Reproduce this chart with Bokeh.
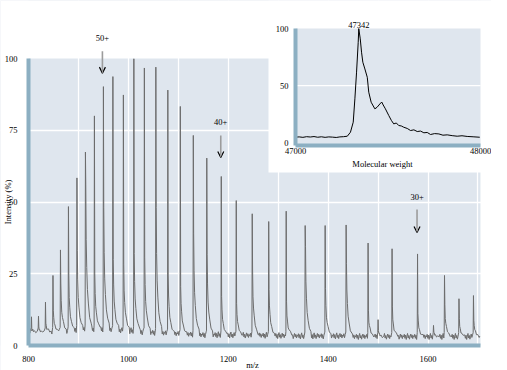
import math
from bokeh.plotting import figure
from bokeh.models import Range1d, FixedTicker, ColumnDataSource, Arrow, OpenHead, Label
from bokeh.embed import file_html
from bokeh.resources import INLINE
from bokeh.core.properties import value

# ---------------- data ----------------
peak_mz = [806, 820, 834, 849, 864, 880, 897, 914, 932, 950, 969, 990, 1011, 1032,
           1055, 1079, 1104, 1130, 1157, 1186, 1216, 1248, 1281, 1316, 1354, 1394,
           1436, 1480, 1500, 1528, 1579, 1611, 1633, 1662, 1691]
peak_h = [10.0, 10.2, 15.1, 24.4, 33.3, 48.4, 58.4, 67.4, 80.0, 90.2, 93.7, 87.3, 99.9, 96.7,
          97.0, 89.0, 83.3, 73.2, 65.3, 58.9, 50.5, 45.9, 43.2, 46.8, 41.8, 41.8,
          42.0, 35.7, 9.0, 33.7, 31.9, 7.0, 24.4, 16.3, 17.4]
shoulder_h = [5.5, 6.0, 8.0, 12.0, 22.0, 24.0, 33.0, 56.0, 25.0, 48.0, 30.0, 28.0, 32.0, 31.0,
              48.0, 25.0, 21.0, 39.0, 32.0, 17.0, 15.0, 26.0, 20.0, 15.0, 34.0, 20.0,
              29.0, 12.0, 5.0, 13.0, 11.0, 4.5, 14.0, 9.0, 9.0]
baseline = [4.8, 4.6, 4.6, 4.8, 4.8, 5.0, 5.4, 5.6, 5.6, 5.6, 5.4, 5.2, 5.0, 4.6,
            4.4, 4.2, 4.0, 3.8, 3.6, 3.6, 3.5, 3.4, 3.4, 3.3, 3.2, 3.2,
            3.2, 3.0, 3.0, 3.0, 3.0, 3.0, 3.0, 3.0, 3.0]
noise = [0.0, 0.9, -0.5, 0.6, -0.9, 0.3, 1.2, -0.4, 0.5, -0.8, 0.2, 1.0, -0.2, 0.7, -0.6, 0.4]
tail_dx = [0.7, 1.5, 2.6, 4.0, 6.0, 8.5, 11.5]
tail_frac = [1.0, 0.62, 0.42, 0.28, 0.17, 0.09, 0.04]

charge_labels = ["50+", "40+", "30+"]
charge_x = [948, 1185, 1578]
charge_text_y = [107.3, 78.0, 51.9]
arrow_top = [102.5, 73.2, 47.4]
arrow_tip = [94.9, 65.5, 39.4]

main_xticks = [800, 1000, 1200, 1400, 1600]
main_xgrid = [900, 1000, 1100, 1200, 1300, 1400, 1500, 1600, 1700]
main_yticks = [0, 25, 50, 75, 100]
main_ygrid = [25, 50, 75]

mw = [47000, 47020, 47040, 47060, 47080, 47100, 47120, 47140, 47160, 47180, 47200, 47220,
      47240, 47260, 47280, 47297, 47312, 47321, 47330, 47339, 47342, 47350, 47357, 47364,
      47375, 47388, 47396, 47409, 47429, 47441, 47456, 47466, 47474, 47486, 47504, 47518,
      47531, 47545, 47558, 47572, 47585, 47604, 47622, 47640, 47658, 47676, 47694, 47712,
      47730, 47752, 47775, 47797, 47820, 47847, 47874, 47900, 47928, 47960, 47996]
abundance = [4.8, 5.0, 4.6, 5.2, 4.9, 5.3, 4.7, 5.1, 4.6, 5.0, 4.8, 4.5,
             5.0, 5.2, 5.6, 9.1, 17.9, 38.4, 61.8, 88.0, 100.0, 91.0, 79.3, 70.5,
             64.6, 57.3, 44.2, 35.4, 29.6, 31.0, 33.9, 35.6, 33.0, 29.6, 23.8, 19.5,
             16.4, 17.2, 15.0, 14.6, 13.5, 12.4, 10.6, 11.2, 9.7, 10.1, 8.6, 8.9,
             7.1, 7.9, 7.6, 6.5, 6.8, 6.1, 5.6, 6.0, 5.4, 5.1, 4.7]
inset_xticks = [47000, 48000]
inset_yticks = [0, 50, 100]
inset_ygrid = [50]
apex_mw = 47342
apex_label = "47342"

# ---------------- styling / geometry ----------------
FONT = "Liberation Serif"
FS = "8.5px"
BG = "#dfe6ee"
BAND = "#8cafc2"
LINE = "#6c6c6c"

FIG_W, FIG_H = 491, 370
FIG_X, FIG_Y = 0, 0                      # where the canvas lands in the window
fx0, fx1 = FIG_X, FIG_X + FIG_W           # the frame fills the whole canvas
fy0, fy1 = FIG_Y, FIG_Y + FIG_H
PX800, PY0 = 28, 345                      # window pixel of m/z 800 and of 0 %
SX = 0.4994                               # px per m/z unit
SY = 2.87                                 # px per % (main)
X0, XEND = 800, 1705                      # main panel extent
XS = X0 - (PX800 - fx0) / SX
XE = X0 + (fx1 - PX800) / SX
YS = -(fy1 - PY0) / SY
YE = (PY0 - fy0) / SY

IX_P0, IX_S = 295, 0.185                  # inset: 47000 at px 295, 0.185 px/Da
IY_P0, IY_S = 142.1, 1.14                 # inset: 0 % at px 142.1, 1.14 px/%
ins_x = Range1d(47000 + (fx0 - IX_P0) / IX_S, 47000 + (fx1 - IX_P0) / IX_S)
ins_y = Range1d((IY_P0 - fy1) / IY_S, (IY_P0 - fy0) / IY_S)
IYB = -2.5

# spectrum polyline from the peak table
xs, ys = [], []
cursor = X0
k = 0
for m, h, s, b in zip(peak_mz, peak_h, shoulder_h, baseline):
    x = cursor
    while x < m - 1.2:
        xs.append(x); ys.append(b + noise[k % len(noise)]); k += 1
        x += 1.3
    xs += [m - 0.6, m]
    ys += [b + 1.5, h]
    for dx, f in zip(tail_dx, tail_frac):
        xs.append(m + dx)
        ys.append(b + (s - b) * f + 0.5 * noise[k % len(noise)]); k += 1
    cursor = m + 12.8
x = cursor
while x <= XEND:
    xs.append(x); ys.append(baseline[-1] + noise[k % len(noise)]); k += 1
    x += 1.3

p = figure(width=FIG_W, height=FIG_H, x_range=Range1d(XS, XE), y_range=Range1d(YS, YE),
           output_backend="svg", toolbar_location=None,
           min_border_left=0, min_border_right=0, min_border_top=0, min_border_bottom=0)
p.extra_x_ranges = {"ins": ins_x}
p.extra_y_ranges = {"ins": ins_y}
p.background_fill_color = BG
p.border_fill_color = "white"
p.outline_line_color = None

p.xaxis.ticker = FixedTicker(ticks=main_xticks)
p.yaxis.ticker = FixedTicker(ticks=main_yticks)
p.xgrid.ticker = FixedTicker(ticks=main_xgrid)
p.ygrid.ticker = FixedTicker(ticks=main_ygrid)
p.grid.grid_line_color = "white"
p.grid.grid_line_width = 1.3
p.yaxis.fixed_location = X0
p.xaxis.fixed_location = 0
p.yaxis.bounds = (0, 100)
p.xaxis.bounds = (X0, XEND)
for ax in (p.xaxis[0], p.yaxis[0]):
    ax.axis_line_color = BAND
    ax.axis_line_width = 4
    ax.major_tick_line_color = None
    ax.minor_tick_line_color = None
    ax.major_label_text_font = FONT
    ax.major_label_text_font_size = FS
    ax.major_label_text_color = "black"
p.xaxis.major_label_standoff = 4
p.yaxis.major_label_standoff = 5

# white outside the main panel
p.quad(left=[XS, XS, XS, XEND], right=[XE, XE, X0, XE], bottom=[100, YS, YS, YS],
       top=[YE, 0, YE, YE], fill_color="white", line_color=None)
p.line(xs, ys, line_color=LINE, line_width=1)

src = ColumnDataSource(dict(x=charge_x, y0=arrow_top, y1=arrow_tip))
p.add_layout(Arrow(source=src, x_start="x", y_start="y0", x_end="x", y_end="y1",
                   line_color="#9c9c9c", line_width=1.6,
                   end=OpenHead(size=6, line_color="black", line_width=1.2)))
p.text(x=charge_x, y=charge_text_y, text=charge_labels, text_font=value(FONT),
       text_font_size=FS, text_align="center", text_baseline="middle", text_color="black")

# axis titles
p.add_layout(Label(x=X0 - 21 / SX, y=50, text="Intensity (%)", angle=math.pi / 2,
                   text_font=FONT, text_font_size=FS, text_align="center",
                   text_baseline="middle", text_color="black"))
p.add_layout(Label(x=X0 + (252 - PX800) / SX, y=-(364 - PY0) / SY, text="m/z",
                   text_font=FONT, text_font_size=FS, text_align="center",
                   text_baseline="middle", text_color="black"))

# ---------------- inset (own scales on the same canvas) ----------------
R = dict(x_range_name="ins", y_range_name="ins")
box_left = 47000 + (268 - IX_P0) / IX_S
box_bottom = (IY_P0 - 172) / IY_S
p.quad(left=[box_left], right=[ins_x.end], bottom=[box_bottom], top=[ins_y.end],
       fill_color="white", line_color=None, **R)
p.quad(left=[47000], right=[48000], bottom=[IYB], top=[100], fill_color=BG, line_color=None, **R)
p.segment(x0=[47000] * len(inset_ygrid), x1=[48000] * len(inset_ygrid), y0=inset_ygrid,
          y1=inset_ygrid, line_color="white", line_width=1.3, **R)
p.line(mw, abundance, line_color="black", line_width=1, **R)
p.segment(x0=[47000, 47000], x1=[47000, 48000], y0=[IYB, IYB], y1=[100, IYB],
          line_color=BAND, line_width=4, **R)
p.text(x=[47000 - 7 / IX_S] * len(inset_yticks), y=inset_yticks,
       text=[str(v) for v in inset_yticks], text_font=value(FONT), text_font_size=FS,
       text_align="right", text_baseline="middle", text_color="black", **R)
p.text(x=inset_xticks, y=[IYB - 5.3] * len(inset_xticks),
       text=[str(v) for v in inset_xticks], text_font=value(FONT), text_font_size=FS,
       text_align="center", text_baseline="middle", text_color="black", **R)
p.text(x=[47470], y=[IYB - 16.7], text=["Molecular weight"], text_font=value(FONT),
       text_font_size=FS, text_align="center", text_baseline="middle", text_color="black", **R)
p.text(x=[apex_mw], y=[103.5], text=[apex_label], text_font=value(FONT), text_font_size=FS,
       text_align="center", text_baseline="middle", text_color="black", **R)

open("out.html", "w").write(file_html(p, INLINE))
